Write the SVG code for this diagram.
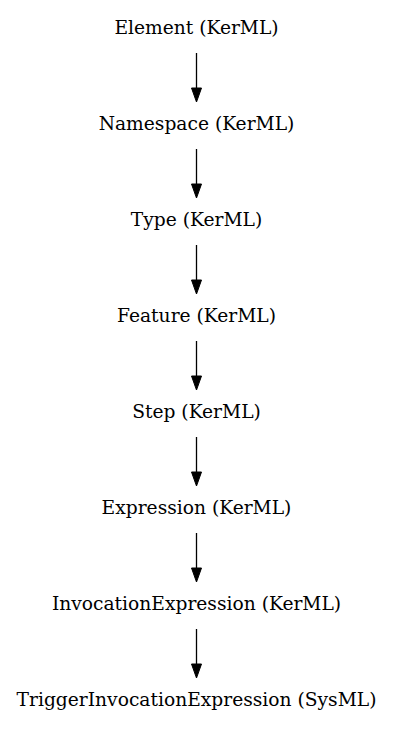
<svg xmlns="http://www.w3.org/2000/svg" width="393" height="731" viewBox="0 0 393 731">
<style>
text{font-family:"DejaVu Serif","Liberation Serif",serif;font-size:18.67px;fill:#000;text-anchor:middle}
.e{stroke:#000;stroke-width:1.3;fill:none}
.h{fill:#000;stroke:#000;stroke-width:1}
</style>
<rect width="393" height="731" fill="#fff"/>
<g id="connectors">
<line class="e" x1="196.5" y1="53" x2="196.5" y2="88"/><polygon class="h" points="191.5,88 201.5,88 196.5,102"/>
<line class="e" x1="196.5" y1="149" x2="196.5" y2="184"/><polygon class="h" points="191.5,184 201.5,184 196.5,198"/>
<line class="e" x1="196.5" y1="245" x2="196.5" y2="280"/><polygon class="h" points="191.5,280 201.5,280 196.5,294"/>
<line class="e" x1="196.5" y1="341" x2="196.5" y2="376"/><polygon class="h" points="191.5,376 201.5,376 196.5,390"/>
<line class="e" x1="196.5" y1="437" x2="196.5" y2="472"/><polygon class="h" points="191.5,472 201.5,472 196.5,486"/>
<line class="e" x1="196.5" y1="533" x2="196.5" y2="568"/><polygon class="h" points="191.5,568 201.5,568 196.5,582"/>
<line class="e" x1="196.5" y1="629" x2="196.5" y2="664"/><polygon class="h" points="191.5,664 201.5,664 196.5,678"/>
</g>
<g id="n1"><text x="196.5" y="34">Element (KerML)</text></g>
<g id="n2"><text x="196.5" y="130">Namespace (KerML)</text></g>
<g id="n3"><text x="196.5" y="226">Type (KerML)</text></g>
<g id="n4"><text x="196.5" y="322">Feature (KerML)</text></g>
<g id="n5"><text x="196.5" y="418">Step (KerML)</text></g>
<g id="n6"><text x="196.5" y="514">Expression (KerML)</text></g>
<g id="n7"><text x="196.5" y="610">InvocationExpression (KerML)</text></g>
<g id="n8"><text x="196.5" y="706">TriggerInvocationExpression (SysML)</text></g>
</svg>
